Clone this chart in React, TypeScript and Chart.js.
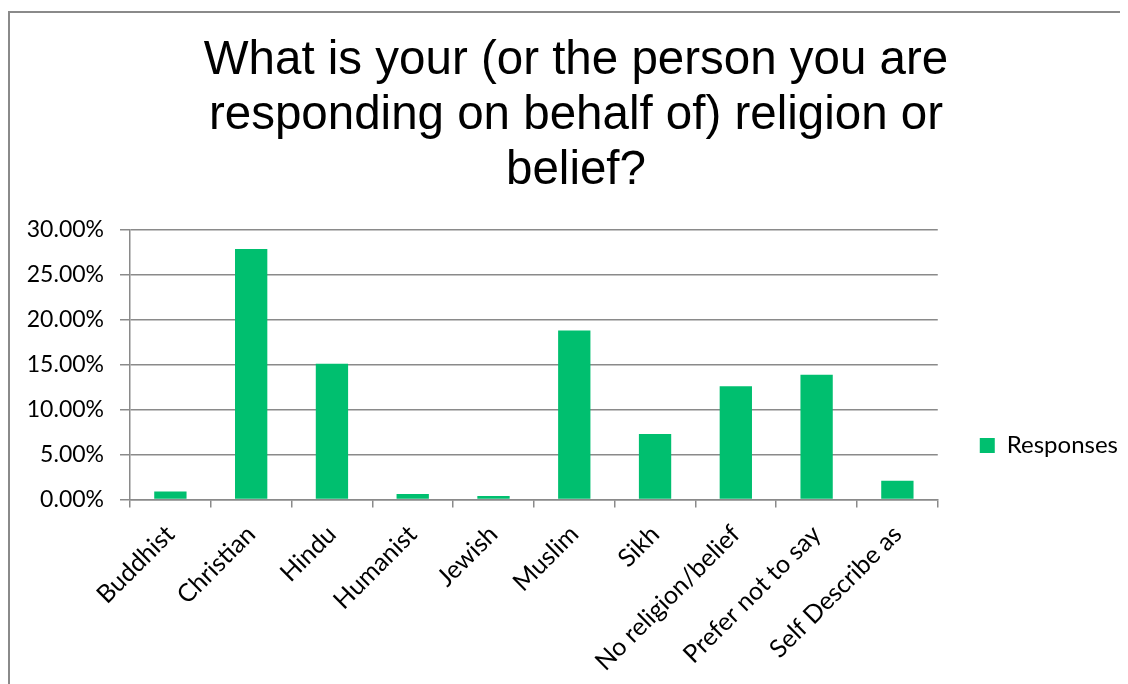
import React, { useEffect, useRef } from "react";
import { Chart, registerables } from "chart.js";

Chart.register(...registerables);

const categories: string[] = [
  "Buddhist",
  "Christian",
  "Hindu",
  "Humanist",
  "Jewish",
  "Muslim",
  "Sikh",
  "No religion/belief",
  "Prefer not to say",
  "Self Describe as",
];

const responses: number[] = [0.009, 0.279, 0.151, 0.006, 0.004, 0.188, 0.073, 0.126, 0.139, 0.021];

const titleLines: string[] = [
  "What is your (or the person you are",
  "responding on behalf of) religion or",
  "belief?",
];

const seriesName = "Responses";
const yMin = 0;
const yMax = 0.3;
const yStep = 0.05;

export default function App() {
  const canvasRef = useRef<HTMLCanvasElement | null>(null);

  useEffect(() => {
    document.body.style.overflow = "hidden";
    const canvas = canvasRef.current;
    if (!canvas) return;
    const grey = "#8a8a8a";
    const chart = new Chart(canvas, {
      type: "bar",
      data: {
        labels: categories,
        datasets: [
          {
            label: seriesName,
            data: responses,
            backgroundColor: "#00BF6F",
            borderWidth: 0,
            barPercentage: 0.4,
            categoryPercentage: 1,
          },
        ],
      },
      options: {
        animation: false,
        responsive: true,
        maintainAspectRatio: false,
        layout: { padding: { left: 14, right: 0, top: 0, bottom: 0 } },
        font: { family: "Lato" },
        plugins: {
          title: {
            display: true,
            text: titleLines,
            color: "#000000",
            font: { family: "'Liberation Sans', Arial, sans-serif", size: 47.5, weight: "normal", lineHeight: 1.158 },
            padding: { top: 20, bottom: 32 },
          },
          legend: {
            display: true,
            position: "right",
            align: "end",
            fullSize: false,
            labels: {
              boxWidth: 15,
              boxHeight: 15,
              padding: 42,
              color: "#000000",
              font: { family: "Lato", size: 24 },
            },
          },
          tooltip: { enabled: false },
        },
        scales: {
          x: {
            offset: true,
            afterFit: (scale: any) => {
              scale.height = 184.5;
            },
            grid: {
              offset: true,
              drawOnChartArea: false,
              drawTicks: true,
              tickLength: 8,
              color: grey,
              lineWidth: 1.5,
            },
            border: { display: true, color: grey, width: 1.5 },
            ticks: {
              autoSkip: false,
              minRotation: 45,
              maxRotation: 45,
              padding: 12,
              color: "#000000",
              font: { family: "Lato", size: 25 },
            },
          },
          y: {
            min: yMin,
            max: yMax,
            afterFit: (scale: any) => {
              scale.width = 106;
            },
            grid: {
              drawTicks: true,
              tickLength: 10,
              color: grey,
              lineWidth: 1.5,
            },
            border: { display: true, color: grey, width: 1.5 },
            ticks: {
              stepSize: yStep,
              padding: 16,
              color: "#000000",
              font: { family: "Lato", size: 23 },
              callback: (v: any) => (Number(v) * 100).toFixed(2) + "%",
            },
          },
        },
      },
    });
    return () => chart.destroy();
  }, []);

  return (
    <div
      style={{
        marginTop: 3,
        width: 1120,
        height: 673,
        boxSizing: "border-box",
        borderLeft: "2px solid #8a8a8a",
        borderTop: "2px solid #8a8a8a",
        background: "#ffffff",
      }}
    >
      <div style={{ position: "relative", width: 1118, height: 671 }}>
        <canvas ref={canvasRef} />
      </div>
    </div>
  );
}
